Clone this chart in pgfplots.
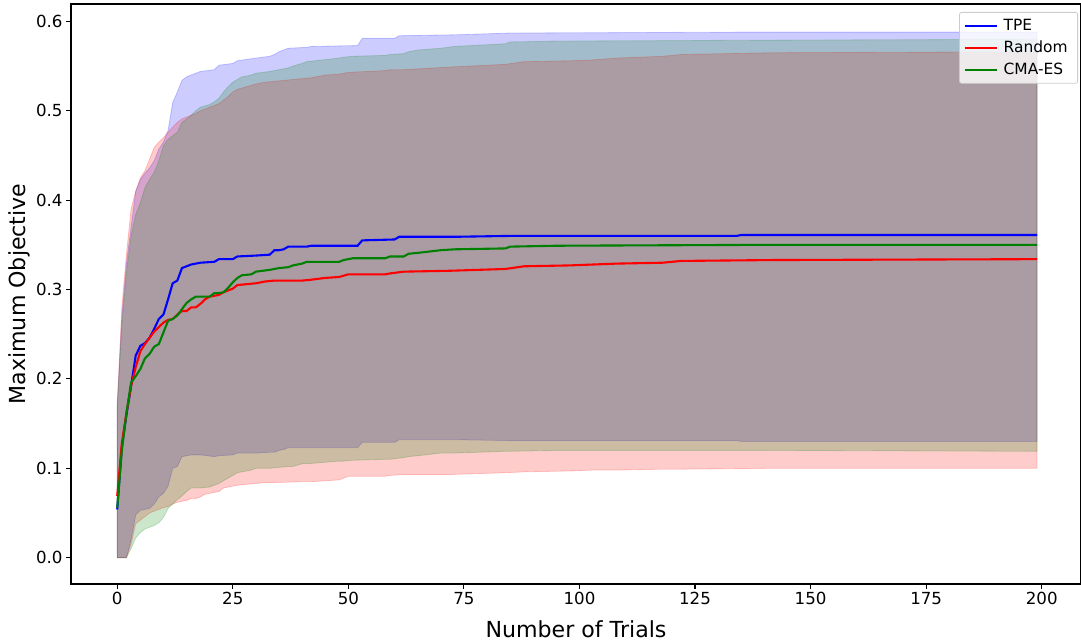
\documentclass[border=0pt]{standalone}
\usepackage{fontspec}
\setmainfont{DejaVu Sans}
\usepackage{pgfplots}
\usepackage{pgfplotstable}
\pgfplotsset{compat=1.18}
\usepgfplotslibrary{fillbetween}

\definecolor{mblue}{RGB}{0,0,255}
\definecolor{mred}{RGB}{255,0,0}
\definecolor{mgreen}{RGB}{0,128,0}

% x = trial, lo / hi = band, mean = line
\pgfplotstableread{
x lo mean hi
0 0 0.054 0.17
1 0 0.124 0.27
2 0 0.160 0.33
3 0.020 0.192 0.37
4 0.048 0.226 0.41
5 0.053 0.237 0.423
6 0.054 0.240 0.430
7 0.055 0.246 0.436
8 0.060 0.256 0.444
9 0.068 0.267 0.457
10 0.072 0.272 0.465
11 0.080 0.289 0.478
12 0.100 0.307 0.509
13 0.102 0.310 0.521
14 0.113 0.324 0.534
15 0.114 0.326 0.538
16 0.115 0.328 0.540
18 0.115 0.330 0.544
21 0.113 0.331 0.546
22 0.114 0.334 0.551
25 0.115 0.334 0.553
26 0.117 0.337 0.556
30 0.117 0.338 0.559
33 0.118 0.339 0.561
34 0.118 0.344 0.563
35 0.120 0.344 0.566
36 0.121 0.345 0.568
37 0.123 0.348 0.570
41 0.123 0.348 0.571
42 0.123 0.349 0.572
52 0.123 0.349 0.573
53 0.129 0.355 0.581
60 0.129 0.356 0.581
61 0.132 0.359 0.584
73 0.132 0.359 0.585
85 0.131 0.360 0.587
134 0.131 0.360 0.588
135 0.130 0.361 0.588
199 0.130 0.361 0.588
}\tpe

\pgfplotstableread{
x lo mean hi
0 0 0.069 0.17
1 0 0.128 0.28
2 0 0.162 0.34
3 0.015 0.192 0.39
4 0.038 0.213 0.41
5 0.042 0.231 0.425
6 0.046 0.239 0.433
7 0.050 0.246 0.446
8 0.052 0.253 0.459
9 0.054 0.258 0.465
10 0.056 0.263 0.470
11 0.057 0.266 0.476
12 0.060 0.267 0.482
13 0.062 0.272 0.487
14 0.063 0.276 0.491
15 0.064 0.276 0.493
16 0.066 0.280 0.495
17 0.066 0.280 0.497
18 0.068 0.284 0.500
19 0.071 0.289 0.502
20 0.072 0.292 0.504
22 0.074 0.294 0.508
23 0.078 0.297 0.512
24 0.079 0.299 0.516
25 0.080 0.301 0.521
26 0.081 0.305 0.524
28 0.082 0.306 0.527
30 0.083 0.307 0.530
32 0.084 0.309 0.532
34 0.084 0.310 0.533
40 0.085 0.310 0.536
42 0.085 0.311 0.537
45 0.086 0.313 0.540
48 0.087 0.314 0.541
50 0.091 0.317 0.543
58 0.091 0.317 0.545
59 0.092 0.318 0.546
62 0.093 0.320 0.546
72 0.093 0.321 0.549
84 0.095 0.323 0.552
88 0.096 0.326 0.555
98 0.097 0.327 0.556
103 0.098 0.328 0.557
108 0.098 0.329 0.559
118 0.099 0.330 0.561
122 0.099 0.332 0.563
142 0.100 0.333 0.565
199 0.100 0.334 0.566
}\rnd

\pgfplotstableread{
x lo mean hi
0 0 0.056 0.17
1 0 0.120 0.26
2 0 0.162 0.32
3 0.010 0.196 0.36
4 0.022 0.203 0.384
5 0.028 0.211 0.397
6 0.032 0.223 0.414
7 0.034 0.228 0.423
8 0.036 0.236 0.431
9 0.039 0.239 0.444
10 0.045 0.252 0.461
11 0.055 0.265 0.468
12 0.060 0.267 0.472
13 0.065 0.271 0.476
14 0.069 0.278 0.487
15 0.074 0.285 0.491
16 0.078 0.289 0.495
17 0.078 0.292 0.500
18 0.078 0.292 0.504
20 0.079 0.292 0.507
21 0.081 0.296 0.510
22 0.083 0.296 0.514
23 0.086 0.297 0.521
24 0.089 0.302 0.527
25 0.092 0.308 0.532
26 0.095 0.313 0.535
27 0.096 0.316 0.538
29 0.098 0.317 0.540
30 0.100 0.320 0.542
33 0.100 0.322 0.544
35 0.101 0.324 0.546
37 0.102 0.325 0.548
38 0.102 0.327 0.550
40 0.105 0.329 0.553
41 0.105 0.331 0.555
48 0.108 0.331 0.559
49 0.108 0.333 0.560
51 0.109 0.335 0.561
58 0.110 0.335 0.562
59 0.110 0.337 0.563
62 0.112 0.337 0.564
63 0.113 0.340 0.566
65 0.114 0.341 0.568
70 0.117 0.344 0.570
73 0.117 0.345 0.572
84 0.119 0.346 0.575
85 0.119 0.348 0.577
95 0.120 0.349 0.578
140 0.120 0.350 0.579
199 0.119 0.350 0.580
}\cma

\begin{document}
\begin{tikzpicture}
\begin{axis}[
    name=ax,
    scale only axis,
    width=1010bp, height=580bp,
    xmin=-10, xmax=208.5,
    ymin=-0.0295, ymax=0.6195,
    xtick={0,25,50,75,100,125,150,175,200},
    ytick={0,0.1,0.2,0.3,0.4,0.5,0.6},
    yticklabel style={/pgf/number format/.cd, fixed, fixed zerofill, precision=1},
    /pgf/number format/assume math mode=true,
    tick label style={font=\fontsize{16.7}{20}\selectfont},
    tick align=outside,
    xtick pos=bottom, ytick pos=left,
    major tick length=4.9bp,
    tick style={black, line width=1.1bp},
    axis line style={black, line width=1.1bp},
    xlabel={Number of Trials},
    ylabel={Maximum Objective},
    label style={font=\fontsize{22.2}{26}\selectfont},
    xlabel style={at={(axis description cs:0.5,-0.0914)}, anchor=base},
    ylabel style={at={(axis description cs:-0.0455,0.5)}, anchor=base, rotate=0},
    legend style={
        at={(1,1)}, anchor=north east, xshift=-3bp, yshift=-8bp,
        font=\fontsize{15.5}{18}\selectfont,
        draw=black!20, line width=0.8bp, rounded corners=2bp,
        fill=white, fill opacity=0.8, text opacity=1,
        inner xsep=4bp, inner ysep=5bp, row sep=5bp,
        cells={anchor=west},
        nodes={inner xsep=6bp},
    },
    legend image code/.code={\draw[#1] (0bp,0bp) -- (32bp,0bp);},
]
% bands
\addplot[draw=none, forget plot, name path=tpehi] table[x=x, y=hi] {\tpe};
\addplot[draw=none, forget plot, name path=tpelo] table[x=x, y=lo] {\tpe};
\addplot[fill=mblue, fill opacity=0.2, draw=mblue, draw opacity=0.2, line width=0.8bp, forget plot] fill between[of=tpehi and tpelo];
\addplot[draw=none, forget plot, name path=rndhi] table[x=x, y=hi] {\rnd};
\addplot[draw=none, forget plot, name path=rndlo] table[x=x, y=lo] {\rnd};
\addplot[fill=mred, fill opacity=0.2, draw=mred, draw opacity=0.2, line width=0.8bp, forget plot] fill between[of=rndhi and rndlo];
\addplot[draw=none, forget plot, name path=cmahi] table[x=x, y=hi] {\cma};
\addplot[draw=none, forget plot, name path=cmalo] table[x=x, y=lo] {\cma};
\addplot[fill=mgreen, fill opacity=0.2, draw=mgreen, draw opacity=0.2, line width=0.8bp, forget plot] fill between[of=cmahi and cmalo];
% mean lines
\addplot[mblue, line width=2.1bp, no marks] table[x=x, y=mean] {\tpe};
\addlegendentry{TPE}
\addplot[mred, line width=2.1bp, no marks] table[x=x, y=mean] {\rnd};
\addlegendentry{Random}
\addplot[mgreen, line width=2.1bp, no marks] table[x=x, y=mean] {\cma};
\addlegendentry{CMA-ES}
\end{axis}
\pgfresetboundingbox
\path ([xshift=-71bp, yshift=-57bp]ax.south west) rectangle ([yshift=4bp]ax.north east);
\end{tikzpicture}
\end{document}
